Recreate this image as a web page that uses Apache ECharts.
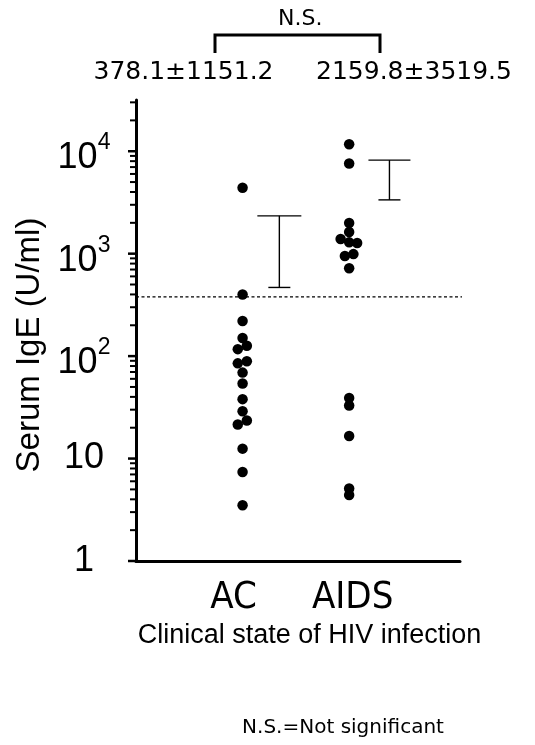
<!DOCTYPE html>
<html><head><meta charset="utf-8">
<script src="https://cdn.jsdelivr.net/npm/echarts@6/dist/echarts.min.js"></script>
<style>html,body{margin:0;padding:0;background:#fff}#c{width:535px;height:745px}</style>
</head><body><div id="c"></div>
<script>
// ---- data ----
const categories = ['AC', 'AIDS'];
const categoryPos = [1, 2];
const acValues   = [4400, 400, 220, 150, 117, 126, 85, 89, 69, 54, 38, 29, 21.5, 23.5, 12.5, 7.4, 3.5];
const acJitter   = [0, 0, 0, 0, -0.045, 0.04, -0.045, 0.04, 0, 0, 0, 0, -0.045, 0.04, 0, 0, 0];
const aidsValues = [11700, 7600, 1990, 1630, 1390, 1290, 1270, 950, 990, 720, 39, 33, 16.6, 5.1, 4.4];
const aidsJitter = [0, 0, 0, 0, -0.08, 0, 0.075, -0.04, 0.04, 0, 0, 0, 0, 0, 0];
const barPos  = [1.345, 2.378];
const barLow  = [468, 3350];
const barHigh = [2340, 8190];
const cutoff = 378.1;
const meanLabels = ['378.1\u00b11151.2', '2159.8\u00b13519.5'];
const yMajorTicks = [1, 10, 100, 1000, 10000];
const yMinorTicks = [2,3,4,5,6,7,8,9, 20,30,40,50,60,70,80,90, 200,300,400,500,600,700,800,900,
                     2000,3000,4000,5000,6000,7000,8000,9000, 20000,30000];

// ---- build ----
const acData = acValues.map((v, i) => [categoryPos[0] + acJitter[i], v]);
const aidsData = aidsValues.map((v, i) => [categoryPos[1] + aidsJitter[i], v]);
const barData = barPos.map((p, i) => [p, barLow[i], barHigh[i]]);
const capTop = [22, 21], capBot = [11, 11];

const chart = echarts.init(document.getElementById('c'), null, {renderer: 'canvas'});
const supLabel = {
  b: {fontSize: 36, lineHeight: 36, padding: [14, 0, 0, 0], fontFamily: 'Liberation Sans', color: '#000'},
  s: {fontSize: 23, lineHeight: 23, padding: [5, 0, 22, 0], fontFamily: 'Liberation Sans', color: '#000'},
  p: {fontSize: 36, lineHeight: 36, fontFamily: 'Liberation Sans', color: '#000'}
};
chart.setOption({
  animation: false,
  backgroundColor: '#fff',
  grid: {left: 136, right: 75, top: 100, bottom: 184},
  xAxis: {
    type: 'value', min: 0, max: 3.04, interval: 1,
    axisLine: {lineStyle: {color: '#000', width: 3}},
    axisTick: {show: false}, splitLine: {show: false},
    axisLabel: {
      margin: 18,
      formatter: v => v === 1 ? '{a|' + categories[0] + '}' : (v === 2 ? '{b|' + categories[1] + '}' : ''),
      rich: {
        a: {fontSize: 38, fontFamily: '"Liberation Sans Narrow","DejaVu Sans Condensed",sans-serif', color: '#000', padding: [0, 18, 0, 0]},
        b: {fontSize: 38, fontFamily: '"Liberation Sans Narrow","DejaVu Sans Condensed",sans-serif', color: '#000', padding: [0, 0, 0, 7]}
      }
    },
    name: 'Clinical state of HIV infection',
    nameLocation: 'middle', nameGap: 56,
    nameTextStyle: {fontSize: 27, fontFamily: 'Liberation Sans', color: '#000', padding: [0, 0, 0, 23]}
  },
  yAxis: {
    type: 'log', logBase: 10, min: 1, max: 31622.78,
    axisLine: {lineStyle: {color: '#000', width: 3}},
    axisTick: {show: false}, splitLine: {show: false},
    axisLabel: {
      margin: 52, align: 'center', showMaxLabel: false,
      formatter: v => {
        const e = Math.round(Math.log10(v));
        if (Math.abs(Math.log10(v) - e) > 1e-6) return '';
        if (e === 0) return '{p|1}';
        if (e === 1) return '{p|10}';
        return '{b|10}{s|' + e + '}';
      },
      rich: supLabel
    },
    name: 'Serum IgE (U/ml)',
    nameLocation: 'middle', nameGap: 89,
    nameTextStyle: {fontSize: 33, fontFamily: 'Liberation Sans', color: '#000', padding: [0, 29, 0, 0]}
  },
  series: [
    {
      type: 'custom', clip: false, silent: true,
      data: yMajorTicks.map(v => [0, v, 1]).concat(yMinorTicks.map(v => [0, v, 0])),
      renderItem: (params, api) => {
        const p = api.coord([api.value(0), api.value(1)]);
        const major = api.value(2) === 1;
        return {type: 'line', shape: {x1: p[0] - (major ? 8 : 6), y1: p[1], x2: p[0], y2: p[1]},
                style: {stroke: '#000', lineWidth: major ? 2.5 : 2}};
      }
    },
    {
      type: 'line', clip: false, silent: true, symbol: 'none',
      data: [[0, cutoff], [3.09, cutoff]],
      lineStyle: {color: '#000', width: 1.3, type: [3, 2.5]}
    },
    {
      type: 'custom', clip: false, silent: true,
      data: barData,
      renderItem: (params, api) => {
        const i = params.dataIndex;
        const t = api.coord([api.value(0), api.value(2)]);
        const b = api.coord([api.value(0), api.value(1)]);
        const st = {stroke: '#000', lineWidth: 1.4};
        return {type: 'group', children: [
          {type: 'line', shape: {x1: t[0], y1: t[1], x2: b[0], y2: b[1]}, style: st},
          {type: 'line', shape: {x1: t[0] - capTop[i], y1: t[1], x2: t[0] + capTop[i], y2: t[1]}, style: st},
          {type: 'line', shape: {x1: b[0] - capBot[i], y1: b[1], x2: b[0] + capBot[i], y2: b[1]}, style: st}
        ]};
      }
    },
    {type: 'scatter', name: categories[0], data: acData, symbolSize: 10.5, itemStyle: {color: '#000', opacity: 1}},
    {type: 'scatter', name: categories[1], data: aidsData, symbolSize: 10.5, itemStyle: {color: '#000', opacity: 1}}
  ],
  graphic: [
    {type: 'text', left: 278, top: 8, style: {text: 'N.S.', font: '22px "DejaVu Sans"', fill: '#000'}},
    {type: 'polyline', shape: {points: [[215, 53], [215, 35], [380, 35], [380, 53]]},
     style: {stroke: '#000', lineWidth: 3, fill: null}},
    {type: 'text', x: 183.5, y: 72, style: {text: meanLabels[0], font: '25px "DejaVu Sans"', fill: '#000', align: 'center', verticalAlign: 'middle'}},
    {type: 'text', x: 414, y: 72, style: {text: meanLabels[1], font: '25px "DejaVu Sans"', fill: '#000', align: 'center', verticalAlign: 'middle'}},
    {type: 'text', x: 343, y: 728, style: {text: 'N.S.=Not significant', font: '20px "DejaVu Sans"', fill: '#000', align: 'center', verticalAlign: 'middle'}}
  ]
});
</script></body></html>
